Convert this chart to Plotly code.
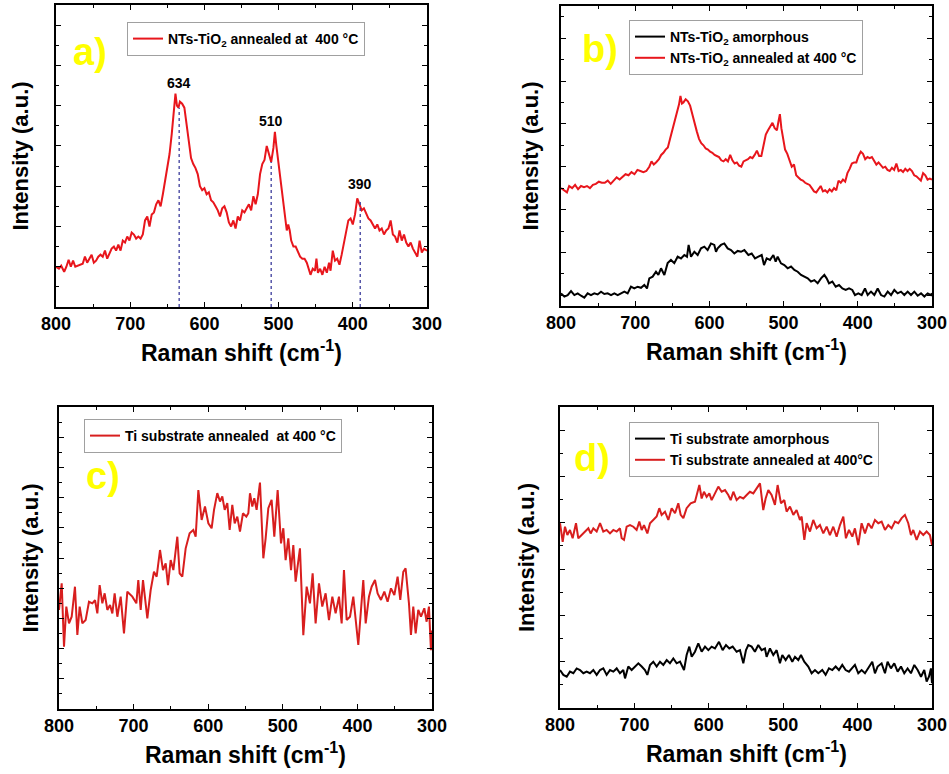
import plotly.graph_objects as go

# ---------------- data ----------------
x_ticks = [800, 700, 600, 500, 400, 300]

# panel a: NTs-TiO2 annealed at 400 C
a_x = [800,796,793,789,786,783,780,777,774,771,768,764,761,758,755,752,749,746,743,740,737,734,731,728,725,722,719,716,713,710,707,704,701,698,695,692,689,686,683,680,677,674,671,668,665,662,659,656,653,650,647,644,641,639,637,635,633,630,627,624,621,618,615,612,609,606,603,600,597,594,591,588,585,582,579,576,573,570,567,564,561,558,555,552,549,546,543,540,537,534,531,528,525,522,519,516,513,510,507,505,503,501,498,495,492,489,487,485,483,480,477,474,471,468,465,462,459,457,454,451,449,447,444,441,438,435,432,430,427,424,421,418,415,412,409,406,403,400,397,394,391,388,385,382,379,376,373,370,367,364,361,358,355,352,349,346,343,340,337,334,331,328,325,322,319,316,313,310,307,304,300]
a_y = [2.0,1.9,2.05,1.75,2.0,2.35,2.0,2.3,2.0,2.05,2.1,2.15,2.5,2.2,2.4,2.6,2.2,2.3,2.5,2.6,2.5,2.8,2.4,2.7,2.9,3.0,2.8,3.1,2.8,3.3,3.2,3.5,3.3,3.7,3.6,3.4,3.5,3.4,3.6,4.3,4.5,4.0,4.6,4.7,5.1,5.3,5.0,5.6,6.2,7.0,7.6,8.6,9.6,10.6,10.0,9.9,10.2,10.1,9.9,9.1,8.2,7.4,7.1,6.9,6.6,6.0,5.8,5.9,5.6,5.7,5.3,5.2,5.0,4.8,4.5,4.9,5.0,4.7,4.2,4.0,4.3,3.9,4.5,4.3,4.8,4.7,4.9,5.1,4.8,5.5,5.1,5.6,6.6,7.1,7.3,8.0,7.6,7.2,7.9,8.7,8.0,7.4,6.5,5.6,4.8,3.8,4.1,3.8,3.3,3.0,3.0,2.7,2.5,2.4,2.4,2.2,1.9,1.6,1.9,1.8,2.4,1.7,1.9,1.6,2.0,1.7,2.2,1.8,2.8,2.3,2.4,2.1,2.6,3.2,3.6,4.3,4.4,4.1,4.6,5.4,5.1,4.8,4.9,4.6,4.4,4.3,4.1,3.9,4.1,3.8,3.9,3.6,3.8,3.9,4.3,3.6,3.5,3.2,3.8,3.3,3.6,3.2,3.0,3.2,2.9,2.7,2.5,3.3,2.7,2.9,2.8]

peak_pos = [634, 510, 390]
peak_top = [9.9, 7.2, 5.25]
peak_label_y = [11.15, 9.25, 6.1]
peak_labels = ["634", "510", "390"]

# panel b
b_red_x = [800,796,792,789,785,781,777,773,769,765,761,757,753,749,745,741,737,733,729,725,721,717,713,709,705,701,697,693,689,685,681,678,675,672,668,665,662,659,656,653,650,647,644,641,639,637,635,632,629,626,623,620,617,614,611,608,605,602,599,596,593,590,587,584,581,578,575,572,569,566,563,560,557,554,551,548,545,542,539,536,533,530,527,524,521,518,515,512,509,507,505,503,501,498,495,492,489,486,483,480,477,474,471,468,465,462,459,456,453,450,447,444,441,438,435,432,429,426,423,420,417,414,411,408,405,402,399,396,393,390,387,384,381,378,375,372,369,366,363,360,357,354,351,348,345,342,339,336,333,330,327,324,321,318,315,312,309,306,303,300]
b_red_y = [5.5,5.4,5.3,5.6,5.5,5.65,5.45,5.6,5.55,5.6,5.5,5.65,5.7,5.8,5.75,5.75,5.85,5.7,5.85,6.0,5.9,6.05,6.15,6.1,6.25,6.15,6.35,6.3,6.25,6.3,6.5,6.75,6.6,6.7,6.85,7.05,7.15,7.3,7.4,7.8,8.2,8.6,8.95,9.4,9.8,9.45,9.5,9.65,9.55,9.35,8.95,8.5,8.15,7.8,7.6,7.5,7.35,7.3,7.2,7.15,7.05,7.0,6.95,6.8,6.75,6.85,6.75,7.05,6.8,6.65,6.7,6.55,6.5,6.75,6.8,6.85,6.95,6.9,7.05,7.25,7.0,7.0,7.5,8.0,8.2,8.4,8.55,8.3,8.2,8.6,8.95,8.3,7.8,7.3,7.1,6.8,6.5,6.6,6.1,6.0,5.9,5.85,5.75,5.7,5.65,5.5,5.35,5.3,5.45,5.6,5.35,5.4,5.3,5.45,5.35,5.5,5.4,5.85,5.75,5.9,5.8,6.2,6.4,6.65,6.7,6.7,7.0,7.2,7.1,6.85,6.95,6.9,6.95,6.75,6.6,6.7,6.55,6.45,6.5,6.35,6.3,6.45,6.35,6.65,6.3,6.35,6.25,6.4,6.3,6.4,6.3,6.1,6.05,5.95,5.85,6.2,6.1,5.9,5.95,5.9]

b_blk_x = [800,795.5,791,786.5,782,777.5,773,768.6,764.1,759.6,755.1,750.6,746.1,741.6,737.1,732.6,728.1,723.6,719.1,714.6,710.2,705.7,701.2,696.7,692.2,687.7,684.1,681,676.5,672,668.8,665.2,660.7,656.3,651.8,647.3,642.8,638.3,633.8,630.2,628,624.8,620.3,615.8,611.3,606.8,602.4,597.9,593.4,591.1,588.9,584.4,579.9,575.4,570.9,566.4,561.9,557.4,552.9,547.5,543,538.5,534,529.5,526.4,522.8,518.3,513.8,510.7,508,503.5,499,494.5,490,485.5,481,476.5,472,467.5,463.1,458.6,454.1,449.6,445.1,442,438.8,434.3,429.8,425.3,420.8,416.3,411.8,407.4,403.8,399.3,394.8,390.3,386.7,382.2,377.7,373.2,368.7,364.2,359.7,355.2,350.8,346.3,341.8,337.3,332.8,328.3,323.8,319.3,314.8,310.3,305.8,301.3,300]
b_blk_y = [0.59,0.44,0.51,0.70,0.51,0.59,0.48,0.39,0.59,0.51,0.59,0.54,0.67,0.56,0.59,0.51,0.59,0.51,0.59,0.67,0.59,0.90,0.82,0.90,0.85,0.98,0.82,1.29,1.37,1.60,1.45,1.76,1.45,2.0,2.15,2.0,2.3,2.22,2.38,2.3,2.85,2.3,2.53,2.38,2.69,2.77,2.61,2.92,2.85,2.53,2.69,2.85,2.92,2.69,2.61,2.45,2.57,2.53,2.61,2.38,2.45,2.22,2.3,2.38,1.91,2.22,2.15,2.38,2.07,2.3,1.99,1.91,1.76,1.84,1.68,1.60,1.45,1.37,1.29,1.14,1.21,1.06,1.29,1.45,1.29,1.06,1.14,0.90,0.98,0.82,0.75,0.82,0.75,0.51,0.59,0.51,0.82,0.51,0.67,0.51,0.82,0.51,0.44,0.67,0.51,0.75,0.59,0.67,0.51,0.67,0.51,0.67,0.48,0.59,0.44,0.59,0.51,0.59]

# panel c: Ti substrate annealed at 400 C
c_x = [800,796.4,793.3,790.2,786.6,783,778.6,775.4,772.3,768.7,764.3,759.8,755.3,751.7,748.6,745.5,741.9,738.8,735.2,731.6,728.5,725.4,721.8,717.3,712.9,708.4,701.7,696.3,693.7,690.5,687.4,681.6,677.1,672.7,669.1,664.6,660.6,657,653.9,650.3,646.7,641.4,638.3,634.7,630.2,624.9,620,616.8,613.2,608.8,604.3,599.8,595.4,592.2,587.8,584.2,581.1,577.9,574.4,571.2,567.7,564.5,561,557.4,553.4,548.9,546.2,544,540.9,538.2,535.1,530.6,526.1,523,519.4,515,511.4,506.9,502.4,499.3,496.2,492.6,489,485.9,482.8,477,472.5,468,463.6,460,456,451.5,447.1,442.6,438.1,433.6,429.2,424.7,421.1,418,414.4,409.9,405.5,401.9,398.8,395.2,392.1,388.9,384.5,380.9,376.4,372.9,368.4,363.9,359.5,355,350.5,346.1,342.5,338.5,335.4,330.9,328.2,325.1,321.9,318.4,314.8,310.3,307.2,304.1,301.4,300]
c_y = [6.56,8.32,4.13,6.78,5.67,6.11,8.1,4.9,6.78,5.67,5.89,7.1,7.0,7.2,6.33,8.21,7.0,7.66,6.56,6.89,6.33,7.66,6.11,7.44,5.01,7.77,7.44,7.0,8.54,6.56,8.54,6.0,7.88,9.09,8.76,10.53,9.2,9.64,8.21,9.86,9.2,11.41,8.98,8.76,10.64,11.64,11.86,11.41,14.5,12.52,13.41,12.3,11.97,13.19,14.3,13.74,14.07,13.19,13.63,11.86,13.52,12.3,12.74,11.75,12.96,12.74,12.96,14.29,13.41,13.96,13.19,15.0,9.98,11.3,13.3,13.85,11.41,14.5,10.97,11.97,9.86,11.3,9.2,10.86,8.43,10.64,4.89,8.1,7.0,8.98,5.67,8.32,6.78,7.66,5.89,7.44,6.33,7.44,5.67,9.2,5.89,6.11,7.44,5.45,4.24,6.56,8.54,5.67,7.44,8.1,8.54,7.66,7.22,7.77,7.1,7.99,7.55,8.76,7.22,9.09,9.31,7.0,4.9,6.78,5.01,6.56,6.11,6.67,5.78,6.78,3.9,5.2]

# panel d
d_red_x = [800,796.4,793.3,790.1,786.6,783,778.5,775.4,770.9,766.4,761.9,758.8,755.2,750.7,746.2,741.8,737.3,732.8,728.3,723.8,719.4,717.1,714,710.4,705.9,701.4,697,693.4,690.2,687.1,682.6,679,674.6,670.1,666.5,663.4,658.9,654.4,649.9,645.4,641,637.8,634.2,629.8,624.4,618.6,612.7,609.6,606.5,602.9,599.3,596.2,591.7,587.2,582.7,578.2,573.8,570.6,567,562.6,558.1,553.6,549.1,544.7,540.2,535.7,531.2,526.8,523.6,520,515.6,511.1,507.5,503,498.5,495.4,490.9,486.4,482,477.5,475.2,471.6,468.5,464,459.6,455.1,450.6,446.1,441.6,437.2,432.7,428.2,423.7,419.2,415.7,411.6,407.1,403.6,399.1,394.6,390.1,385.6,381.2,376.7,372.2,367.7,363.2,358.8,354.3,349.8,345.3,340.8,336.4,331.9,328.3,325.2,320.7,316.2,311.7,307.2,302.8,300]
d_red_y = [7.98,7.18,7.83,7.47,7.69,7.33,7.98,7.33,7.47,7.62,7.76,7.54,7.76,7.62,7.98,7.62,7.69,7.54,7.69,7.62,7.76,7.33,7.26,7.83,7.9,7.83,7.69,8.05,7.69,7.9,7.54,7.98,8.12,8.27,8.63,8.34,8.48,8.12,8.63,8.41,8.84,8.34,8.2,8.63,8.84,8.91,9.63,9.05,9.34,9.12,9.27,8.98,9.27,9.56,9.34,9.41,9.2,8.98,9.34,8.98,9.12,9.05,9.2,9.34,9.27,9.48,9.7,8.55,9.05,9.41,9.2,8.77,9.63,8.84,8.98,8.48,8.7,8.34,8.55,8.12,8.27,7.26,7.98,7.62,8.12,7.76,7.9,7.54,7.83,7.47,7.83,7.4,7.9,8.27,7.33,7.69,7.4,7.76,7.04,7.98,7.54,7.98,7.76,8.12,7.98,8.05,7.69,7.9,7.76,8.05,7.98,8.2,8.34,7.98,7.47,7.69,7.26,7.62,7.47,7.62,7.47,7.04]

d_blk_x = [800,795.5,791,786.6,782.1,777.6,773.1,768.6,764.2,759.7,755.2,750.7,746.2,741.8,737.3,732.8,728.3,723.8,719.4,714.9,712.6,708.2,703.7,699.2,694.7,690.2,685.8,682.6,679,674.6,670.1,665.6,661.1,656.6,652.2,647.7,643.2,638.7,633.3,629.8,626.2,623,618.6,614.1,609.6,605.1,600.6,596.2,591.7,586.3,581.4,576.9,572.4,567.9,562.6,558.1,553.6,550,546.9,542.4,538,533.5,529,524.5,522.3,517.8,513.3,508.8,504.4,501.2,496.7,492.3,487.8,484.2,479.7,476.1,471.7,466.3,461.8,457.3,452.8,447.5,443,438.5,434,429.5,425.1,420.6,416.1,411.6,407.1,403.6,399.1,394.6,390.1,385.6,380.3,376.7,373.1,367.7,363.2,359.7,355.2,350.7,346.2,341.7,337.3,332.8,328.3,323.8,319.3,314.8,310.4,307.2,304.1,301.4,300]
d_blk_y = [1.64,1.43,1.35,1.57,1.5,1.71,1.64,1.5,1.57,1.5,1.64,1.43,1.64,1.71,1.43,1.64,1.57,1.71,1.5,1.64,1.28,1.79,1.64,1.79,1.93,1.79,1.64,1.43,1.86,2.0,1.79,2.0,1.86,2.07,1.93,2.14,1.93,2.0,1.64,2.29,2.65,2.21,2.43,2.79,2.43,2.65,2.5,2.65,2.57,2.86,2.5,2.72,2.57,2.65,2.43,2.5,1.93,2.5,2.72,2.65,2.43,2.72,2.5,2.57,2.21,2.57,2.29,2.5,1.93,2.29,2.07,2.29,2.0,2.21,2.07,2.29,2.0,1.79,1.5,1.64,1.5,1.64,1.43,1.71,1.64,1.79,1.64,1.86,1.64,1.57,1.71,1.86,1.5,1.64,1.5,1.71,2.0,1.5,1.79,1.93,1.5,2.0,1.71,1.93,1.57,1.79,1.5,1.71,1.5,1.86,1.64,1.35,1.64,1.14,1.35,1.71,1.07]

# ---------------- styling ----------------
RED = "#E8161C"
RED_C = "#D81E1E"
FONT = "Liberation Sans, Arial, sans-serif"
W, H = 949, 774

def px_x(p):
    return p / W

def px_y(p):
    return 1 - p / H

panels = {
    1: dict(x0=56, x1=427, y0=5, y1=307, yr=[0, 15], y_tick0=0, y_dtick=2, standoff=20),
    2: dict(x0=561, x1=932, y0=6, y1=306, yr=[0, 14], y_tick0=0.5, y_dtick=2, standoff=15),
    3: dict(x0=59, x1=432, y0=407, y1=709, yr=[0, 20], y_tick0=0, y_dtick=2, standoff=13),
    4: dict(x0=560, x1=932, y0=407, y1=708, yr=[0, 13], y_tick0=0, y_dtick=2, standoff=18),
}

fig = go.Figure()

def add_line(k, x, y, color, name, legend, show=True, width=2):
    sfx = "" if k == 1 else str(k)
    fig.add_trace(go.Scatter(
        x=x, y=y, mode="lines", name=name,
        line=dict(color=color, width=width),
        xaxis="x" + sfx, yaxis="y" + sfx,
        legend=legend, showlegend=show,
    ))

# panel a
add_line(1, a_x, a_y, RED, "NTs-TiO<sub>2</sub> annealed at \u00a0400 °C", "legend")
for px_, top in zip(peak_pos, peak_top):
    fig.add_trace(go.Scatter(
        x=[px_, px_], y=[0, top], mode="lines",
        line=dict(color="#3C3C9C", width=1.3, dash="dot"),
        xaxis="x", yaxis="y", showlegend=False, hoverinfo="skip",
    ))
# panel b
add_line(2, b_blk_x, b_blk_y, "black", "NTs-TiO<sub>2</sub> amorphous", "legend2")
add_line(2, b_red_x, b_red_y, RED, "NTs-TiO<sub>2</sub> annealed at 400 °C", "legend2")
# panel c
add_line(3, c_x, c_y, RED_C, "Ti substrate annealed \u00a0at 400 °C", "legend3")
# panel d
add_line(4, d_blk_x, d_blk_y, "black", "Ti substrate amorphous", "legend4")
add_line(4, d_red_x, d_red_y, RED_C, "Ti substrate annealed at 400°C", "legend4")

layout = dict(
    width=W, height=H, margin=dict(l=0, r=0, t=0, b=0, autoexpand=False),
    paper_bgcolor="white", plot_bgcolor="white",
    font=dict(family=FONT, color="black"),
)

title_font = dict(family=FONT, size=22, weight="bold", color="black")
annotations = []
for k, p in panels.items():
    sfx = "" if k == 1 else str(k)
    layout["xaxis" + sfx] = dict(
        domain=[px_x(p["x0"]), px_x(p["x1"])],
        anchor="y" + sfx, automargin=False,
        range=[800, 300], tickmode="array", tickvals=x_ticks,
        ticktext=[str(v) for v in x_ticks],
        showline=True, linecolor="black", linewidth=1.5, mirror="ticks",
        ticks="inside", ticklen=5, tickwidth=1.2, tickcolor="black",
        minor=dict(ticks="inside", ticklen=3, tickwidth=1.2, tickcolor="black",
                   tickmode="array", tickvals=[750, 650, 550, 450, 350]),
        tickfont=dict(family=FONT, size=18, weight="bold", color="black"),
        showgrid=False, zeroline=False, fixedrange=True,
    )
    layout["yaxis" + sfx] = dict(
        domain=[px_y(p["y1"]), px_y(p["y0"])],
        anchor="x" + sfx, automargin=False,
        range=p["yr"], tick0=p["y_tick0"], dtick=p["y_dtick"],
        showticklabels=False,
        showline=True, linecolor="black", linewidth=1.5, mirror="ticks",
        ticks="inside", ticklen=5, tickwidth=1.2, tickcolor="black",
        minor=dict(ticks="inside", ticklen=3, tickwidth=1.2, tickcolor="black",
                   tick0=p["y_tick0"], dtick=1),
        title=dict(text="Intensity (a.u.)", font=title_font, standoff=p["standoff"]),
        showgrid=False, zeroline=False, fixedrange=True,
    )
    cx = (p["x0"] + p["x1"]) / 2
    annotations.append(dict(
        text="Raman shift (cm<sup>-1</sup>)", xref="paper", yref="paper",
        x=px_x(cx), y=px_y(p["y1"] + 44), xanchor="center", yanchor="middle",
        showarrow=False, font=dict(family=FONT, size=23, weight="bold", color="black"),
    ))

panel_tags = {"a)": (90, 52), "b)": (600, 49), "c)": (103, 476), "d)": (592, 458)}
for t, (xx, yy) in panel_tags.items():
    annotations.append(dict(
        text=t, xref="paper", yref="paper", x=px_x(xx), y=px_y(yy),
        xanchor="center", yanchor="middle", showarrow=False,
        font=dict(family=FONT, size=38, weight="bold", color="#FFFF00"),
    ))

for xv, yv, lab in zip(peak_pos, peak_label_y, peak_labels):
    annotations.append(dict(
        text=lab, xref="x", yref="y", x=xv, y=yv, xanchor="center", yanchor="middle",
        showarrow=False, font=dict(family=FONT, size=14, weight="bold", color="black"),
    ))

layout["annotations"] = annotations

leg_common = dict(
    bgcolor="white", bordercolor="#A0A0A0", borderwidth=1,
    font=dict(family=FONT, size=14, weight="bold", color="black"),
    xanchor="left", yanchor="top", xref="paper", yref="paper",
    itemclick=False, itemdoubleclick=False, tracegroupgap=0,
)
layout["legend"] = dict(leg_common, x=px_x(127), y=px_y(22))
layout["legend2"] = dict(leg_common, x=px_x(629), y=px_y(20))
layout["legend3"] = dict(leg_common, x=px_x(84), y=px_y(419))
layout["legend4"] = dict(leg_common, x=px_x(629), y=px_y(422))

fig.update_layout(**layout)
fig.write_html("out.html")
